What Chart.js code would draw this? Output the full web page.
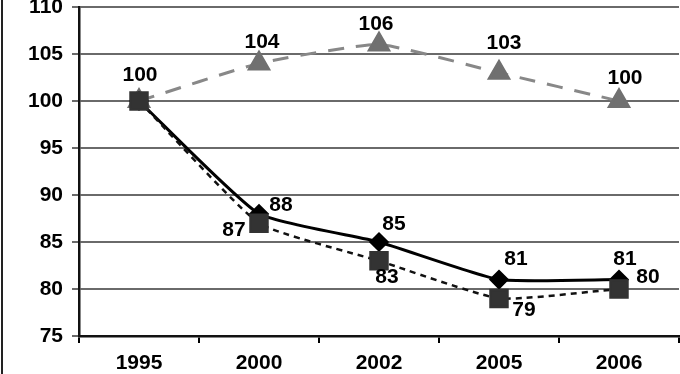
<!DOCTYPE html>
<html>
<head>
<meta charset="utf-8">
<title>Index 1995 = 100</title>
<script src="https://cdn.jsdelivr.net/npm/chart.js@4.4.0/dist/chart.umd.min.js"></script>
<style>
  html, body { margin: 0; padding: 0; background: #fff; overflow: hidden; }
  #frame { position: relative; width: 680px; height: 374px; overflow: hidden; }
  #edge { position: absolute; left: 1px; top: 0; width: 2px; height: 374px; background: #222; }
  #box { position: absolute; left: 0; top: -20px; width: 700px; height: 414px; }
</style>
</head>
<body>
<div id="frame">
  <div id="box"><canvas id="c"></canvas></div>
  <div id="edge"></div>
</div>
<script>
// categories and series
const years = ['1995', '2000', '2002', '2005', '2006'];
const diamondSeries = [100, 88, 85, 81, 81];
const squareSeries = [100, 87, 83, 79, 80];
const triangleSeries = [100, 104, 106, 103, 100];
const yTicks = [75, 80, 85, 90, 95, 100, 105, 110];

const FONT = '"Liberation Sans", Arial, sans-serif';

// draws the value next to each point, offset set per dataset
const valueLabels = {
  id: 'valueLabels',
  afterDatasetsDraw(chart) {
    const ctx = chart.ctx;
    ctx.save();
    ctx.font = 'bold 21px ' + FONT;
    ctx.fillStyle = '#000';
    ctx.textAlign = 'center';
    ctx.textBaseline = 'middle';
    chart.data.datasets.forEach((ds, i) => {
      const meta = chart.getDatasetMeta(i);
      meta.data.forEach((pt, j) => {
        const off = ds.labelOffset[j];
        if (!off) return;
        ctx.fillText(String(ds.data[j]), pt.x + off[0], pt.y + off[1]);
      });
    });
    ctx.restore();
  }
};

new Chart(document.getElementById('c'), {
  type: 'line',
  data: {
    labels: years,
    datasets: [{
      label: 'carres',
      data: squareSeries,
      borderColor: '#111',
      borderWidth: 2.5,
      borderDash: [6, 5],
      tension: 0.15,
      pointStyle: 'rect',
      pointRadius: 12,
      pointBackgroundColor: '#333',
      pointBorderColor: '#333',
      order: 0,
      labelOffset: [null, [-25, 7], [8, 16], [25, 12], [29, -12]]
    }, {
      label: 'losanges',
      data: diamondSeries,
      borderColor: '#000',
      borderWidth: 3,
      tension: 0.15,
      pointStyle: 'rectRot',
      pointRadius: 8,
      pointBackgroundColor: '#000',
      pointBorderColor: '#000',
      order: 1,
      labelOffset: [null, [22, -9], [15, -18], [17, -20], [6, -20]]
    }, {
      label: 'triangles',
      data: triangleSeries,
      borderColor: '#888',
      borderWidth: 3,
      borderDash: [16, 12],
      tension: 0.15,
      pointStyle: 'triangle',
      pointRadius: 11,
      pointBackgroundColor: '#707070',
      pointBorderColor: '#707070',
      order: 2,
      labelOffset: [[1, -26], [3, -21], [-3, -20], [5, -30], [6, -23]]
    }]
  },
  options: {
    responsive: true,
    maintainAspectRatio: false,
    animation: false,
    layout: { padding: { top: 27, right: 21, left: 0, bottom: 0 } },
    plugins: {
      legend: { display: false },
      tooltip: { enabled: false }
    },
    scales: {
      x: {
        offset: true,
        grid: { offset: true, drawOnChartArea: false, color: '#000', lineWidth: 2, tickLength: 7 },
        border: { color: '#111', width: 2.5 },
        ticks: { color: '#000', padding: 8, font: { family: FONT, size: 21, weight: 'bold' } },
        afterFit(s) { s.height = 58; }
      },
      y: {
        min: 75,
        max: 110,
        afterBuildTicks(s) { s.ticks = yTicks.map(v => ({ value: v })); },
        grid: { color: '#6a6a6a', lineWidth: 2, tickLength: 7 },
        border: { color: '#111', width: 2.5 },
        ticks: { color: '#000', padding: 9, font: { family: FONT, size: 21, weight: 'bold' } },
        afterFit(s) { s.width = 79; }
      }
    }
  },
  plugins: [valueLabels]
});
</script>
</body>
</html>
